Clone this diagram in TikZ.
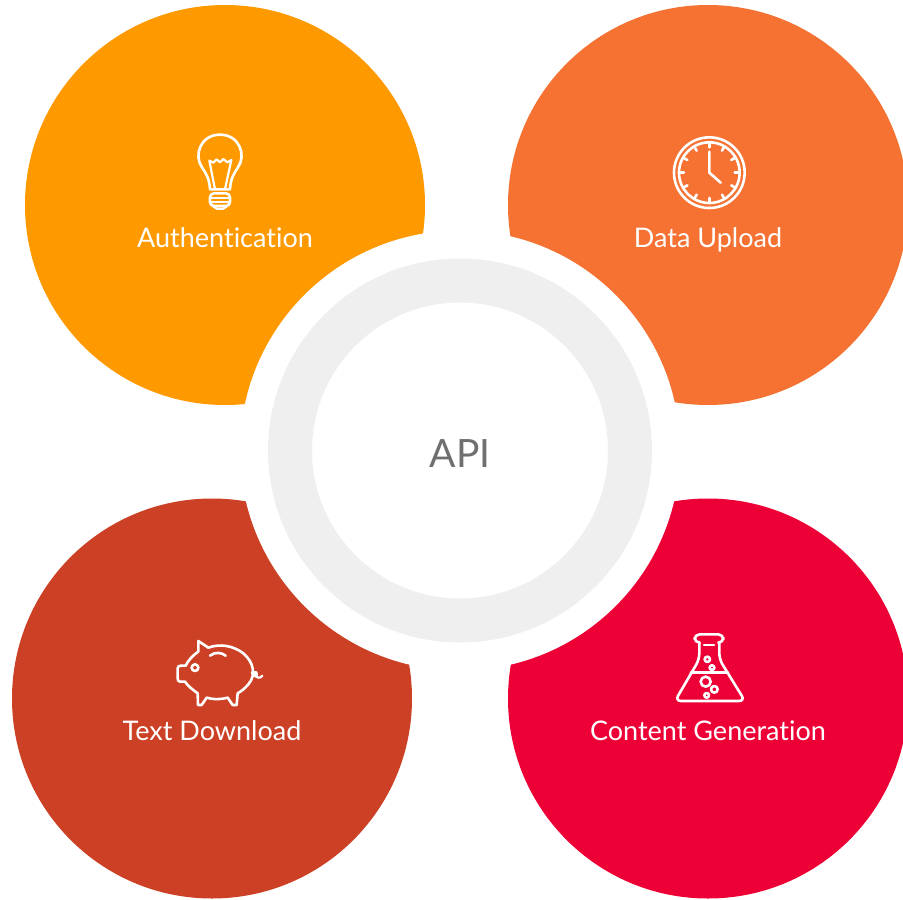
\documentclass[tikz,border=0pt]{standalone}
\usepackage{fontspec}
\usetikzlibrary{calc}
\setmainfont[Ligatures=NoCommon]{Lato}
\definecolor{cauth}{HTML}{FF9900}
\definecolor{cupload}{HTML}{F67233}
\definecolor{cdown}{HTML}{CC4125}
\definecolor{cgen}{HTML}{ED0035}
\definecolor{cring}{HTML}{EFEFEF}
\definecolor{capi}{HTML}{6F6F6F}
\tikzset{
  petal/.style={circle,minimum size=400pt,inner sep=0pt,fill=#1},
  label/.style={text=white,font=\fontsize{27}{32}\selectfont,inner sep=0pt,anchor=base},
  icon/.style={draw=white,line width=2.6pt,line join=round,line cap=round,fill=none},
  thinicon/.style={icon,line width=2.2pt},
  iconframe/.style={shift={(#1)},x=0.3333pt,y=-0.3333pt}
}
\begin{document}
\begin{tikzpicture}[x=1pt,y=-1pt]
\useasboundingbox (0,0) rectangle (903,900);
\fill[white] (0,0) rectangle (903,900);
\node[petal=cauth] (auth) at (225,205) {};
\node[petal=cupload] (upload) at (708,205) {};
\node[petal=cdown] (down) at (212,698.5) {};
\node[petal=cgen] (gen) at (708,698.5) {};
\node[circle,minimum size=440pt,inner sep=0pt,fill=white] (gap) at (460,450.5) {};
\node[circle,minimum size=340pt,inner sep=0pt,draw=cring,line width=44pt,fill=white] (ring) at (460,450.5) {};
\node[text=capi,font=\fontsize{39}{44}\selectfont,inner sep=0pt,anchor=base] (api) at (460,467) {API};
\node[label] (tauth) at (225,247) {Authentication};
\node[label] (tupload) at (708,247) {Data Upload};
\node[label] (tdown) at (212,740) {Text Download};
\node[label] (tgen) at (708,740) {Content Generation};
% bulb
\begin{scope}[iconframe={170,120}]
\draw[icon] (120,208) .. controls (118,175) and (108,160) .. (96,142)
  .. controls (70,105) and (92,44) .. (150,44)
  .. controls (208,44) and (230,105) .. (204,142)
  .. controls (192,160) and (182,175) .. (180,208) -- cycle;
\draw[thinicon] (135,208) -- (118,122) -- (130,128) -- (140,118) -- (150,127) -- (160,117) -- (172,127) -- (184,120) -- (165,208);
\draw[icon,rounded corners=4pt] (120,220) rectangle (180,258);
\draw[thinicon] (122,233) -- (178,233) (122,246) -- (178,246);
\draw[thinicon] (128,258) -- (140,266) -- (160,266) -- (172,258);
\end{scope}
% clock
\begin{scope}[iconframe={660,120}]
\draw[icon] (148,158) circle[radius=106];
\draw[icon] (148,158) circle[radius=91];
\foreach \a in {0,30,...,330}
  \draw[icon] ($(148,158)+(\a:91)$) -- ($(148,158)+(\a:76)$);
\draw[icon] (148,95) -- (148,158) -- (182,188);
\end{scope}
% pig
\begin{scope}[iconframe={165,625}]
\draw[icon] (62,122) .. controls (70,105) and (85,90) .. (100,80) -- (100,48) -- (130,68)
  .. controls (165,55) and (205,62) .. (235,85)
  .. controls (265,110) and (275,150) .. (250,178)
  .. controls (240,190) and (230,198) .. (218,205) -- (215,240) -- (203,240) -- (188,218)
  .. controls (165,224) and (145,224) .. (125,218) -- (110,240) -- (99,240) -- (98,205)
  .. controls (85,195) and (70,185) .. (60,170) -- (45,170) .. controls (40,170) and (38,165) .. (38,160)
  -- (38,130) .. controls (38,125) and (42,122) .. (47,122) -- cycle;
\draw[icon] (90,128) circle[radius=10];
\draw[icon] (135,92) .. controls (150,80) and (170,82) .. (182,92);
\draw[thinicon] (260,142) .. controls (268,162) and (282,152) .. (274,142) .. controls (266,134) and (262,156) .. (280,158) .. controls (285,159) and (290,156) .. (292,152);
\end{scope}
% flask
\begin{scope}[iconframe={660,620}]
\draw[icon,rounded corners=5pt] (118,68) -- (104,68) -- (104,43) -- (190,43) -- (190,68) -- (178,68);
\draw[icon,rounded corners=6pt] (118,68) -- (118,118) -- (45,243) -- (255,243) -- (178,118) -- (178,68);
\draw[icon] (93,158) -- (204,158);
\draw[icon] (132,75) -- (162,75);
\draw[icon] (142,118) circle[radius=8];
\draw[icon] (156,143) circle[radius=7];
\draw[icon] (137,185) circle[radius=15];
\draw[icon] (163,208) circle[radius=10];
\draw[icon] (140,226) circle[radius=7];
\end{scope}
\end{tikzpicture}
\end{document}
